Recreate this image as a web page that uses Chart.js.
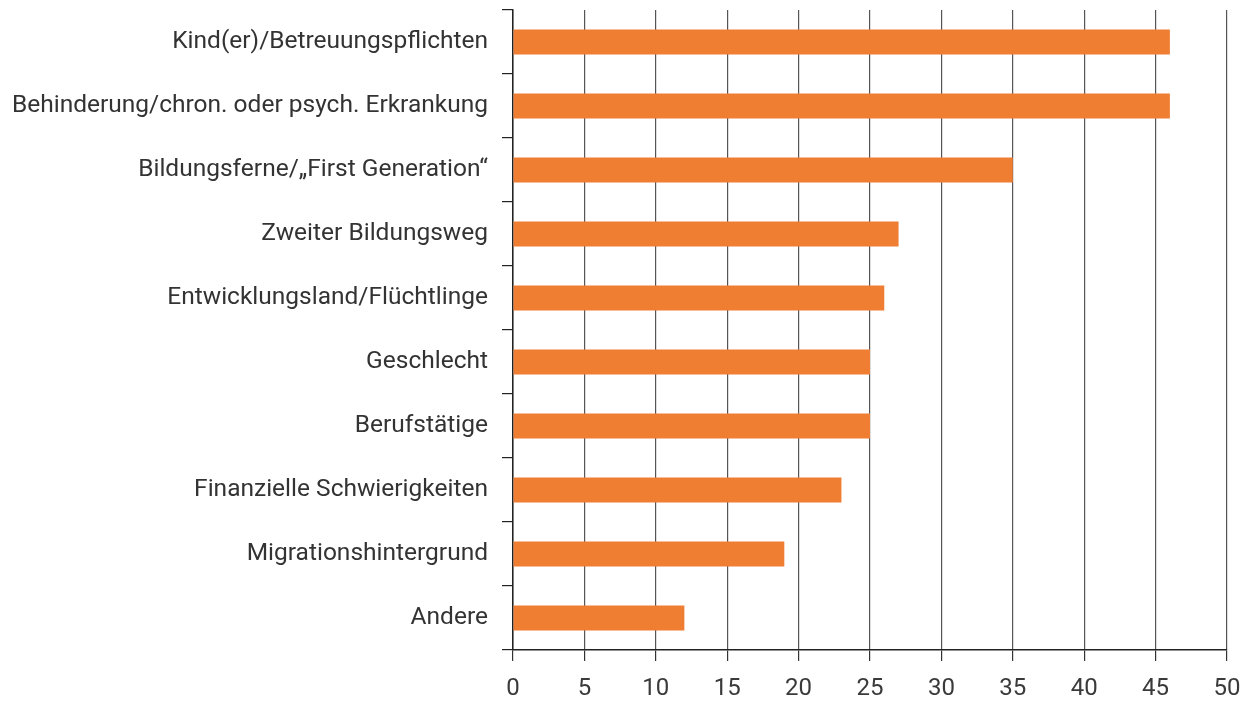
<!DOCTYPE html>
<html>
<head>
<meta charset="utf-8">
<script src="https://cdn.jsdelivr.net/npm/chart.js@4"></script>
<style>
  html, body { margin: 0; padding: 0; background: #fff; }
  #wrap { width: 1252px; height: 702px; }
</style>
</head>
<body>
<div id="wrap"><canvas id="chart"></canvas></div>
<script>
const kategorien = [
    'Kind(er)/Betreuungspflichten',
    'Behinderung/chron. oder psych. Erkrankung',
    'Bildungsferne/\u201EFirst Generation\u201C',
    'Zweiter Bildungsweg',
    'Entwicklungsland/Flüchtlinge',
    'Geschlecht',
    'Berufstätige',
    'Finanzielle Schwierigkeiten',
    'Migrationshintergrund',
    'Andere'
];
const werte = [46, 46, 35, 27, 26, 25, 25, 23, 19, 12];
const xMin = 0;
const xMax = 50;
const xSchritt = 5;

const ctx = document.getElementById('chart').getContext('2d');
new Chart(ctx, {
    type: 'bar',
    data: {
        labels: kategorien,
        datasets: [{
            data: werte,
            backgroundColor: '#ef7d32',
            borderWidth: 0,
            barPercentage: 0.39,
            categoryPercentage: 1
        }]
    },
    options: {
        indexAxis: 'y',
        responsive: true,
        maintainAspectRatio: false,
        animation: false,
        layout: { padding: { top: 10, right: 25, bottom: 0, left: 0 } },
        plugins: {
            legend: { display: false },
            tooltip: { enabled: false }
        },
        scales: {
            x: {
                min: xMin,
                max: xMax,
                z: 1,
                afterFit: (scale) => {
                    scale.height = 52;
                    scale.paddingLeft = 0;
                    scale.paddingRight = 0;
                },
                ticks: {
                    stepSize: xSchritt,
                    color: '#3a3a3a',
                    padding: 14,
                    font: { family: 'Roboto', size: 24 }
                },
                grid: {
                    color: '#555',
                    lineWidth: 1.2,
                    tickLength: 11,
                    tickColor: '#333'
                },
                border: { color: '#222', width: 1.5 }
            },
            y: {
                afterFit: (scale) => {
                    scale.width = 513;
                    scale.paddingTop = 0;
                    scale.paddingBottom = 0;
                },
                ticks: {
                    color: '#333',
                    padding: 14,
                    font: { family: 'Roboto', size: 24.5 }
                },
                grid: {
                    offset: true,
                    drawOnChartArea: false,
                    tickLength: 11,
                    color: '#222',
                    lineWidth: 1.2
                },
                border: { color: '#222', width: 1.5 }
            }
        }
    }
});
</script>
</body>
</html>
